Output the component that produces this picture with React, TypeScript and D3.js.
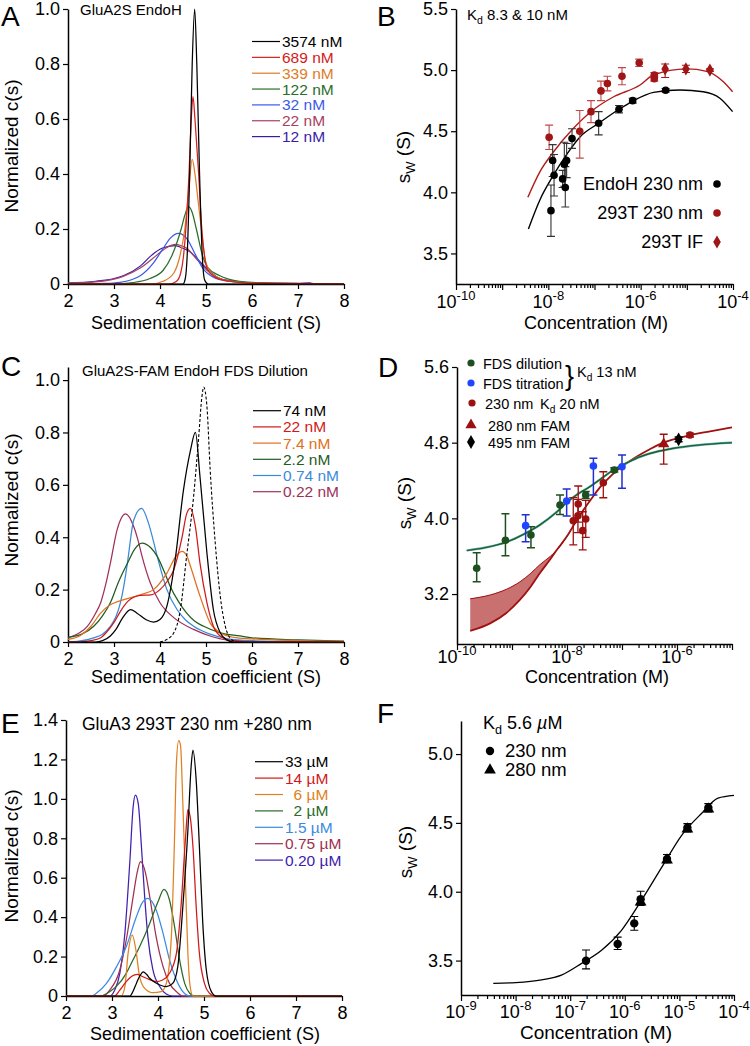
import * as d3 from 'd3'
import { useRef, useEffect } from 'react'

type P = [number, number]
type E = [number, number, number, number] // conc, sw, low, high

// ---------- A: GluA2S EndoH, c(s) distributions ----------
const aLabels = ['3574 nM', '689 nM', '339 nM', '122 nM', '32 nM', '22 nM', '12 nM']
const aColors = ['#000000', '#d42020', '#e07b28', '#2a6e2a', '#3a5ae8', '#a8405e', '#3a1ca8']
const a3574: P[] = [[2, 0], [4.5, 0], [4.55, 0.02], [4.59, 0.1], [4.645, 0.4], [4.7, 0.8], [4.754, 1.0], [4.8, 0.8], [4.86, 0.4], [4.92, 0.1], [4.97, 0.015], [5.05, 0], [8, 0]]
const a689: P[] = [[2, 0], [4.2, 0], [4.36, 0.01], [4.45, 0.04], [4.51, 0.1], [4.57, 0.22], [4.63, 0.4], [4.68, 0.6], [4.717, 0.681], [4.76, 0.6], [4.8, 0.5], [4.84, 0.4], [4.9, 0.22], [4.97, 0.1], [5.04, 0.05], [5.2, 0.025], [5.5, 0.01], [6, 0.003], [8, 0]]
const a339: P[] = [[2, 0], [3.8, 0], [4.07, 0.01], [4.3, 0.04], [4.43, 0.1], [4.54, 0.2], [4.62, 0.33], [4.7, 0.453], [4.76, 0.4], [4.83, 0.3], [4.9, 0.2], [4.97, 0.1], [5.07, 0.05], [5.3, 0.02], [5.6, 0.008], [6.2, 0.002], [8, 0]]
const a122: P[] = [[2, 0], [3.0, 0], [3.41, 0.005], [3.78, 0.02], [4.07, 0.05], [4.25, 0.1], [4.46, 0.2], [4.54, 0.25], [4.62, 0.281], [4.7, 0.26], [4.79, 0.2], [4.93, 0.1], [5.04, 0.06], [5.3, 0.03], [5.73, 0.01], [6.5, 0.002], [8, 0]]
const a32: P[] = [[2, 0], [2.8, 0.002], [3.13, 0.006], [3.57, 0.03], [3.85, 0.075], [4.07, 0.13], [4.22, 0.166], [4.4, 0.184], [4.58, 0.166], [4.76, 0.11], [4.94, 0.055], [5.16, 0.025], [5.5, 0.01], [6, 0.003], [8, 0]]
const a22: P[] = [[2, 0.003], [2.6, 0.008], [3.0, 0.018], [3.2, 0.028], [3.57, 0.058], [3.93, 0.105], [4.15, 0.133], [4.33, 0.144], [4.45, 0.14], [4.58, 0.13], [4.8, 0.09], [5.02, 0.05], [5.27, 0.022], [5.6, 0.01], [6, 0.004], [7, 0.001], [8, 0]]
const a12: P[] = [[2, 0.004], [2.6, 0.01], [3.0, 0.02], [3.2, 0.03], [3.57, 0.065], [3.82, 0.105], [4.04, 0.13], [4.33, 0.14], [4.5, 0.13], [4.65, 0.117], [4.87, 0.081], [5.09, 0.045], [5.3, 0.02], [5.6, 0.01], [6, 0.004], [7, 0.002], [7.25, 0.004], [7.35, 0.001], [8, 0]]
const aCurves = [a3574, a689, a339, a122, a32, a22, a12]

// ---------- B: sw isotherms ----------
const bEndoH: E[] = [
  [1.14e-8, 3.85, 3.64, 4.06], [1.24e-8, 4.26, 4.13, 4.39], [1.33e-8, 4.14, 3.97, 4.31],
  [2.04e-8, 4.11, 4.04, 4.18], [2.22e-8, 4.23, 4.05, 4.41], [2.33e-8, 4.04, 3.88, 4.21],
  [2.49e-8, 4.26, 4.12, 4.4], [3.26e-8, 4.44, 4.36, 4.52], [1.23e-7, 4.565, 4.47, 4.66],
  [3.39e-7, 4.68, 4.65, 4.71], [6.71e-7, 4.75, 4.73, 4.77], [3.47e-6, 4.835, 4.82, 4.85]
]
const b293T: E[] = [
  [1.04e-8, 4.45, 4.35, 4.55], [4.79e-8, 4.5, 4.28, 4.67], [8.4e-8, 4.66, 4.57, 4.75],
  [1.38e-7, 4.83, 4.75, 4.91], [1.9e-7, 4.89, 4.83, 4.95], [3.94e-7, 4.95, 4.88, 5.02],
  [9.3e-7, 5.06, 5.03, 5.09], [1.97e-6, 4.93, 4.91, 4.95], [1.97e-6, 4.96, 4.94, 4.98]
]
const b293TIF: E[] = [[3.39e-6, 5.01, 4.94, 5.05], [9.55e-6, 5.01, 4.98, 5.04], [3.16e-5, 5.0, 4.99, 5.01]]
const bFitEndoH: P[] = [[3.7e-9, 3.7], [6.6e-9, 3.94], [1.29e-8, 4.14], [2.5e-8, 4.31], [4.9e-8, 4.455], [1.23e-7, 4.565], [3.4e-7, 4.68], [6.8e-7, 4.747], [1.9e-6, 4.818], [7.1e-6, 4.837], [2.27e-5, 4.823], [5.2e-5, 4.77], [9.8e-5, 4.66]]
const bFit293T: P[] = [[3.6e-9, 3.96], [6.6e-9, 4.17], [1.29e-8, 4.33], [3.5e-8, 4.524], [9.3e-8, 4.674], [2.6e-7, 4.782], [9.7e-7, 4.878], [1.87e-6, 4.96], [1e-5, 5.01], [2.7e-5, 4.99], [6.2e-5, 4.905], [9.8e-5, 4.823]]
const bLegend = ['EndoH 230 nm', '293T 230 nm', '293T IF']

// ---------- C: GluA2S-FAM FDS dilution ----------
const cLabels = ['74 nM', '22 nM', '7.4 nM', '2.2 nM', '0.74 nM', '0.22 nM']
const cColors = ['#000000', '#d01818', '#e07020', '#1f5c1f', '#3a8ad8', '#a0305a']
const c74: P[] = [[2, 0], [2.6, 0], [2.75, 0.005], [2.92, 0.023], [3.05, 0.05], [3.18, 0.09], [3.36, 0.124], [3.5, 0.11], [3.7, 0.085], [3.86, 0.076], [4.0, 0.086], [4.15, 0.137], [4.33, 0.314], [4.51, 0.58], [4.66, 0.73], [4.77, 0.8], [4.87, 0.63], [5.02, 0.34], [5.16, 0.124], [5.31, 0.035], [5.45, 0.008], [5.6, 0], [8, 0]]
const c22: P[] = [[2.0, 0], [2.2, 0], [2.5, 0.005], [2.71, 0.016], [2.85, 0.04], [3.0, 0.075], [3.15, 0.12], [3.3, 0.155], [3.57, 0.178], [3.8, 0.18], [4.0, 0.2], [4.15, 0.23], [4.3, 0.276], [4.48, 0.4], [4.58, 0.49], [4.66, 0.51], [4.77, 0.44], [4.87, 0.3], [5.02, 0.15], [5.16, 0.06], [5.31, 0.023], [5.6, 0.004], [6, 0], [8, 0]]
const c7p4: P[] = [[2.0, 0.01], [2.27, 0.025], [2.5, 0.06], [2.71, 0.11], [2.9, 0.14], [3.14, 0.158], [3.57, 0.18], [3.86, 0.2], [4.15, 0.263], [4.37, 0.333], [4.48, 0.346], [4.58, 0.33], [4.66, 0.29], [4.87, 0.175], [5.09, 0.073], [5.31, 0.035], [5.6, 0.018], [6, 0.012], [7, 0.005], [8, 0.002]]
const c2p2: P[] = [[2.0, 0.018], [2.3, 0.03], [2.56, 0.06], [2.75, 0.1], [2.92, 0.15], [3.1, 0.23], [3.29, 0.3], [3.45, 0.355], [3.61, 0.378], [3.8, 0.36], [3.94, 0.327], [4.1, 0.265], [4.22, 0.213], [4.4, 0.155], [4.58, 0.11], [4.75, 0.08], [4.95, 0.06], [5.31, 0.035], [5.74, 0.023], [6, 0.016], [7, 0.008], [8, 0.003]]
const c0p74: P[] = [[2.0, 0], [2.2, 0.002], [2.56, 0.016], [2.75, 0.03], [2.92, 0.06], [3.05, 0.1], [3.14, 0.15], [3.22, 0.22], [3.29, 0.3], [3.43, 0.466], [3.6, 0.51], [3.75, 0.454], [3.85, 0.39], [3.94, 0.327], [4.15, 0.2], [4.37, 0.124], [4.55, 0.085], [4.73, 0.06], [5.09, 0.03], [5.45, 0.013], [6, 0.005], [7, 0.002], [8, 0]]
const c0p22: P[] = [[2.0, 0.016], [2.25, 0.035], [2.42, 0.06], [2.6, 0.11], [2.71, 0.15], [2.82, 0.22], [2.92, 0.3], [3.07, 0.43], [3.25, 0.489], [3.43, 0.44], [3.52, 0.39], [3.61, 0.327], [3.79, 0.225], [4.0, 0.15], [4.3, 0.093], [4.73, 0.048], [5.09, 0.023], [5.45, 0.008], [6, 0.003], [7, 0.001], [8, 0]]
const cCurves = [c74, c22, c7p4, c2p2, c0p74, c0p22]
const cDashed: P[] = [[4.0, 0], [4.15, 0.01], [4.3, 0.035], [4.44, 0.12], [4.58, 0.33], [4.73, 0.555], [4.84, 0.78], [4.91, 0.935], [4.95, 0.973], [5.02, 0.9], [5.09, 0.66], [5.2, 0.38], [5.31, 0.175], [5.42, 0.06], [5.52, 0.016], [5.67, 0]]

// ---------- D: FDS / absorbance isotherms ----------
const dDilution: E[] = [[2.28e-10, 3.472, 3.33, 3.637], [7.6e-10, 3.768, 3.605, 4.05], [2.21e-9, 3.824, 3.69, 3.912], [7.46e-9, 4.141, 4.04, 4.247], [2.19e-8, 4.247, 4.21, 4.285], [7.24e-8, 4.511, 4.49, 4.535]]
const dTitration: E[] = [[1.77e-9, 3.923, 3.753, 4.039], [9.86e-9, 4.184, 4.025, 4.31], [3.02e-8, 4.553, 4.247, 4.635], [1e-7, 4.546, 4.318, 4.67]]
const d230: E[] = [[1.3e-8, 3.975, 3.72, 4.22], [1.6e-8, 4.152, 3.96, 4.342], [1.58e-8, 4.028, 3.85, 4.2], [1.93e-8, 3.87, 3.666, 4.07], [2.19e-8, 3.993, 3.8, 4.19], [4.57e-8, 4.377, 4.218, 4.493], [1.72e-6, 4.881, 4.86, 4.9]]
const d280: E[] = [[5.73e-7, 4.787, 4.574, 4.889]]
const d495: E[] = [[1.07e-6, 4.836, 4.81, 4.86]]
const dFitFDS: P[] = [[1.5e-10, 3.66], [3.2e-10, 3.69], [8e-10, 3.75], [1.6e-9, 3.83], [3.2e-9, 3.93], [6.3e-9, 4.06], [1e-8, 4.17], [1.6e-8, 4.26], [2.6e-8, 4.335], [4.4e-8, 4.43], [6.9e-8, 4.51], [1.26e-7, 4.59], [2.1e-7, 4.65], [4e-7, 4.7], [8.5e-7, 4.74], [2.5e-6, 4.775], [1e-5, 4.8]]
const dFit230: P[] = [[1.74e-10, 2.81], [4e-10, 2.89], [7.9e-10, 3.0], [1.4e-9, 3.14], [2.2e-9, 3.28], [3.2e-9, 3.42], [5e-9, 3.57], [6.5e-9, 3.665], [1.05e-8, 3.83], [1.4e-8, 3.95], [2e-8, 4.09], [2.8e-8, 4.21], [4e-8, 4.33], [6.3e-8, 4.45], [1e-7, 4.55], [1.6e-7, 4.63], [3.2e-7, 4.73], [5.6e-7, 4.8], [1e-6, 4.845], [1.74e-6, 4.88], [4e-6, 4.92], [1e-5, 4.963]]
const dBandUpper: P[] = [[1.74e-10, 3.15], [4e-10, 3.19], [7.9e-10, 3.25], [1.4e-9, 3.33], [2.2e-9, 3.42], [3.2e-9, 3.51], [5e-9, 3.6], [7.4e-9, 3.7], [1.05e-8, 3.83]]
const dBandLower: P[] = dFit230.slice(0, 9)

// ---------- E: GluA3 293T c(s) ----------
const eLabels = ['33 µM', '14 µM', '\u20076 µM', '\u20072 µM', '1.5 µM', '0.75 µM', '0.20 µM']
const eColors = ['#000000', '#d01818', '#e08020', '#2a6a2a', '#3a8ae0', '#a03050', '#4020b0']
const e33: P[] = [[2, 0], [3.39, 0], [3.45, 0.02], [3.53, 0.064], [3.6, 0.1], [3.68, 0.123], [3.75, 0.11], [3.82, 0.09], [3.93, 0.07], [4.04, 0.056], [4.18, 0.047], [4.32, 0.064], [4.43, 0.149], [4.54, 0.453], [4.65, 0.842], [4.72, 1.163], [4.76, 1.247], [4.83, 1.095], [4.9, 0.757], [4.97, 0.385], [5.05, 0.132], [5.16, 0.022], [5.26, 0], [8, 0]]
const e14: P[] = [[2, 0], [3.05, 0], [3.17, 0.03], [3.31, 0.073], [3.43, 0.1], [3.55, 0.11], [3.65, 0.1], [3.75, 0.09], [3.96, 0.073], [4.1, 0.081], [4.25, 0.115], [4.4, 0.216], [4.5, 0.453], [4.6, 0.808], [4.65, 0.946], [4.7, 0.909], [4.76, 0.757], [4.83, 0.453], [4.9, 0.216], [5.01, 0.064], [5.12, 0.014], [5.23, 0], [8, 0]]
const e6: P[] = [[2, 0], [3.2, 0], [3.28, 0.047], [3.35, 0.216], [3.44, 0.309], [3.52, 0.233], [3.6, 0.098], [3.71, 0.039], [3.89, 0.017], [4.07, 0.022], [4.18, 0.064], [4.29, 0.3], [4.36, 0.808], [4.4, 1.18], [4.45, 1.295], [4.49, 1.27], [4.54, 0.977], [4.6, 0.554], [4.65, 0.216], [4.7, 0.047], [4.76, 0], [8, 0]]
const e2: P[] = [[2, 0], [2.74, 0], [2.95, 0.022], [3.1, 0.05], [3.31, 0.115], [3.45, 0.18], [3.6, 0.25], [3.82, 0.368], [4.0, 0.478], [4.13, 0.541], [4.25, 0.487], [4.36, 0.352], [4.47, 0.183], [4.58, 0.064], [4.69, 0.014], [4.79, 0], [8, 0]]
const e1p5: P[] = [[2, 0], [2.56, 0], [2.66, 0.014], [2.88, 0.064], [3.1, 0.149], [3.31, 0.25], [3.53, 0.402], [3.65, 0.47], [3.78, 0.495], [3.96, 0.436], [4.11, 0.318], [4.25, 0.183], [4.4, 0.081], [4.54, 0.022], [4.69, 0], [8, 0]]
const e0p75: P[] = [[2, 0], [2.81, 0], [2.95, 0.03], [3.17, 0.132], [3.31, 0.284], [3.46, 0.504], [3.55, 0.63], [3.62, 0.681], [3.73, 0.622], [3.82, 0.504], [3.96, 0.3], [4.11, 0.149], [4.25, 0.064], [4.4, 0.022], [4.54, 0], [8, 0]]
const e0p20: P[] = [[2, 0], [2.95, 0], [3.06, 0.03], [3.17, 0.115], [3.28, 0.318], [3.39, 0.69], [3.46, 0.96], [3.51, 1.019], [3.57, 0.977], [3.64, 0.757], [3.71, 0.504], [3.78, 0.3], [3.89, 0.132], [4.04, 0.047], [4.18, 0.01], [4.32, 0], [8, 0]]
const eCurves = [e33, e14, e6, e2, e1p5, e0p75, e0p20]

// ---------- F: GluA3 isotherm ----------
const f230: E[] = [[1.95e-7, 3.499, 3.44, 3.577], [7.4e-7, 3.62, 3.58, 3.67], [1.49e-6, 3.77, 3.72, 3.82], [1.95e-6, 3.945, 3.9, 4.003], [5.93e-6, 4.238, 4.21, 4.27], [1.4e-5, 4.465, 4.435, 4.495], [3.39e-5, 4.61, 4.58, 4.64]]
const f280: P[] = [[1.95e-6, 3.925], [5.93e-6, 4.23], [1.4e-5, 4.455], [3.39e-5, 4.6]]
const fFit: P[] = [[3.9e-9, 3.335], [1e-8, 3.34], [3e-8, 3.36], [6.9e-8, 3.395], [1.62e-7, 3.48], [3.8e-7, 3.577], [8.7e-7, 3.72], [2.04e-6, 3.94], [4.8e-6, 4.18], [1.1e-5, 4.41], [2.57e-5, 4.57], [5.1e-5, 4.68], [1e-4, 4.7]]

const FONT = '"Liberation Sans", Arial, Helvetica, sans-serif'

const App = () => {
  const ref = useRef<SVGSVGElement>(null)

  useEffect(() => {
    drawChart()
  }, [])

  const drawChart = () => {
    const svg = d3.select(ref.current)
    svg.selectAll('*').remove()
    svg.attr('font-family', FONT)

    const fmt1 = (d: any) => (d === 0 ? '0' : d3.format('.1f')(d))

    const styleAxis = (g: any) => {
      g.attr('font-family', FONT).attr('font-size', 18)
      g.select('.domain').attr('stroke-width', 1.5)
      g.selectAll('.tick line').attr('stroke-width', 1.2)
      g.selectAll('.tick text').attr('fill', '#000')
    }

    const text = (x: number, y: number, t: string, size: number, color = '#000', anchor = 'start') =>
      svg.append('text').attr('x', x).attr('y', y).attr('font-size', size).attr('fill', color).attr('text-anchor', anchor).text(t)

    const kd = (x: number, y: number, size: number, rest: string, italicMu = false) => {
      const t = svg.append('text').attr('x', x).attr('y', y).attr('font-size', size)
      t.append('tspan').text('K')
      t.append('tspan').attr('font-size', size * 0.7).attr('dy', size * 0.28).text('d')
      if (italicMu) {
        t.append('tspan').attr('dy', -size * 0.28).text(' ' + rest + ' ')
        t.append('tspan').attr('font-style', 'italic').text('µ')
        t.append('tspan').text('M')
      } else {
        t.append('tspan').attr('dy', -size * 0.28).text(' ' + rest)
      }
    }

    const yTitle = (x: number, y: number, t: string) =>
      svg.append('text').attr('transform', `translate(${x},${y}) rotate(-90)`).attr('text-anchor', 'middle').attr('font-size', 19).text(t)

    const swTitle = (x: number, y: number) => {
      const t = svg.append('text').attr('transform', `translate(${x},${y}) rotate(-90)`).attr('text-anchor', 'middle').attr('font-size', 19)
      t.append('tspan').text('s')
      t.append('tspan').attr('font-size', 13).attr('dy', 5).text('W')
      t.append('tspan').attr('dy', -5).text(' (S)')
    }

    const panelLetter = (x: number, y: number, t: string) => text(x, y, t, 28)

    // c(s) panels
    const distPanel = (x0: number, x1: number, yb: number, yt: number, ymax: number, yTicks: number[], curves: P[][], colors: string[]) => {
      const x = d3.scaleLinear().domain([2, 8]).range([x0, x1])
      const y = d3.scaleLinear().domain([0, ymax]).range([yb, yt])
      svg.append('g').attr('transform', `translate(0,${yb})`)
        .call(d3.axisBottom(x).tickValues(d3.range(2, 9)).tickFormat(d3.format('d')).tickSize(5).tickSizeOuter(0).tickPadding(5))
        .call(styleAxis)
      svg.append('g').attr('transform', `translate(${x0},0)`)
        .call(d3.axisLeft(y).tickValues(yTicks).tickFormat(fmt1).tickSize(5).tickSizeOuter(0).tickPadding(3))
        .call(styleAxis)
      const line = d3.line<P>().x(d => x(d[0])).y(d => y(d[1])).curve(d3.curveMonotoneX)
      for (let i = curves.length - 1; i >= 0; i--) {
        svg.append('path').attr('d', line(curves[i])).attr('fill', 'none').attr('stroke', colors[i]).attr('stroke-width', 1.25)
      }
      return { x, y, line }
    }

    const legend = (x0: number, yStart: number, step: number, labels: string[], colors: string[]) => {
      labels.forEach((l, i) => {
        const yy = yStart + i * step
        svg.append('line').attr('x1', x0).attr('x2', x0 + 28).attr('y1', yy).attr('y2', yy).attr('stroke', colors[i]).attr('stroke-width', 1.2)
        text(x0 + 30, yy + 5.5, l, 15.5, colors[i]).attr('xml:space', 'preserve')
      })
    }

    // log concentration axes
    const logPanel = (x0: number, x1: number, minE: number, maxE: number, yb: number, yt: number, yDom: [number, number], yTicks: number[], labelE: number[], labOff: number) => {
      const x = d3.scaleLog().domain([10 ** minE, 10 ** maxE]).range([x0, x1])
      const y = d3.scaleLinear().domain(yDom).range([yb, yt])
      const ticks: number[] = []
      for (let e = minE; e < maxE; e++) for (let k = 1; k < 10; k++) ticks.push(k * 10 ** e)
      ticks.push(10 ** maxE)
      const isDecade = (d: number) => Math.abs(Math.log10(d) - Math.round(Math.log10(d))) < 1e-6
      const gx = svg.append('g').attr('transform', `translate(0,${yb})`)
        .call(d3.axisBottom(x).tickValues(ticks).tickSize(4).tickSizeOuter(0).tickFormat(() => ''))
        .call(styleAxis)
      gx.selectAll('.tick line').attr('y2', (d: any) => (isDecade(d) ? 6 : 4))
      labelE.forEach(e => {
        const t = gx.append('text').attr('x', x(10 ** e)).attr('y', labOff).attr('text-anchor', 'middle').attr('fill', '#000')
        t.append('tspan').text('10')
        t.append('tspan').attr('font-size', 13).attr('dy', -8).text('-' + -e)
      })
      svg.append('g').attr('transform', `translate(${x0},0)`)
        .call(d3.axisLeft(y).tickValues(yTicks).tickFormat(fmt1).tickSize(5).tickSizeOuter(0).tickPadding(3))
        .call(styleAxis)
      return { x, y }
    }

    const errBars = (x: any, y: any, data: E[], color: string, w = 4, sw = 1.1) => {
      data.forEach(d => {
        const cx = x(d[0]), lo = y(d[2]), hi = y(d[3])
        svg.append('path')
          .attr('d', `M${cx - w},${lo}H${cx + w}M${cx},${lo}V${hi}M${cx - w},${hi}H${cx + w}`)
          .attr('stroke', color).attr('stroke-width', sw).attr('fill', 'none')
      })
    }
    const dots = (x: any, y: any, data: (E | P)[], color: string, r = 3.6) => {
      data.forEach(d => {
        svg.append('circle').attr('cx', x(d[0])).attr('cy', y(d[1])).attr('r', r).attr('fill', color)
      })
    }
    const sym = (cx: number, cy: number, type: any, size: number, color: string) =>
      svg.append('path').attr('d', d3.symbol().type(type).size(size)()).attr('transform', `translate(${cx},${cy})`).attr('fill', color)

    // ================= A =================
    distPanel(68, 344, 284, 9, 1.0, [0, 0.2, 0.4, 0.6, 0.8, 1.0], aCurves, aColors)
    panelLetter(1, 26, 'A')
    text(80, 15, 'GluA2S EndoH', 15)
    legend(252, 41.5, 15.85, aLabels, aColors)
    yTitle(18, 146, 'Normalized c(s)')
    text(206, 329, 'Sedimentation coefficient (S)', 18, '#000', 'middle')

    // ================= B =================
    {
      const { x, y } = logPanel(456, 733, -10, -4, 284, 9, [3.25, 5.5], [3.5, 4.0, 4.5, 5.0, 5.5], [-10, -8, -6, -4], 24)
      const line = d3.line<P>().x(d => x(d[0])).y(d => y(d[1])).curve(d3.curveMonotoneX)
      svg.append('path').attr('d', line(bFitEndoH)).attr('fill', 'none').attr('stroke', '#000').attr('stroke-width', 1.4)
      svg.append('path').attr('d', line(bFit293T)).attr('fill', 'none').attr('stroke', '#b01c1c').attr('stroke-width', 1.4)
      errBars(x, y, b293T, '#c04848')
      errBars(x, y, b293TIF, '#a01515')
      errBars(x, y, bEndoH, '#333333')
      dots(x, y, b293T, '#a01515', 3.8)
      b293TIF.forEach(d => sym(x(d[0]), y(d[1]), d3.symbolDiamond, 50, '#a01515'))
      dots(x, y, bEndoH, '#000', 3.8)
      panelLetter(377, 26, 'B')
      kd(467, 20, 15, '8.3 & 10 nM')
      text(703, 190, bLegend[0], 18, '#000', 'end')
      svg.append('circle').attr('cx', 717).attr('cy', 184).attr('r', 3.8).attr('fill', '#000')
      text(703, 219, bLegend[1], 18, '#000', 'end')
      svg.append('circle').attr('cx', 717).attr('cy', 213).attr('r', 3.8).attr('fill', '#a01515')
      text(703, 248, bLegend[2], 18, '#000', 'end')
      sym(717, 242, d3.symbolDiamond, 50, '#a01515')
      swTitle(410, 157)
      text(596, 329, 'Concentration (M)', 18, '#000', 'middle')
    }

    // ================= C =================
    {
      const { line } = distPanel(68, 344, 642, 367, 1.05, [0, 0.2, 0.4, 0.6, 0.8, 1.0], cCurves, cColors)
      svg.append('path').attr('d', line(cDashed)).attr('fill', 'none').attr('stroke', '#000').attr('stroke-width', 1.1).attr('stroke-dasharray', '3,2')
      panelLetter(1, 376, 'C')
      text(82, 376, 'GluA2S-FAM EndoH FDS Dilution', 15)
      legend(253, 410.7, 16.2, cLabels, cColors)
      yTitle(18, 500, 'Normalized c(s)')
      text(206, 683, 'Sedimentation coefficient (S)', 18, '#000', 'middle')
    }

    // ================= D =================
    {
      const { x, y } = logPanel(457, 732, -10, -5, 644, 367, [2.672, 5.6], [3.2, 4.0, 4.8, 5.6], [-10, -8, -6], 19)
      const line = d3.line<P>().x(d => x(d[0])).y(d => y(d[1])).curve(d3.curveMonotoneX)
      const band = d3.line<P>().x(d => x(d[0])).y(d => y(d[1]))
      svg.append('path').attr('d', band([...dBandUpper, ...dBandLower.slice().reverse()]) + 'Z').attr('fill', '#c97070').attr('stroke', 'none')
      svg.append('path').attr('d', line(dBandUpper)).attr('fill', 'none').attr('stroke', '#a01010').attr('stroke-width', 1)
      svg.append('path').attr('d', line(dFit230)).attr('fill', 'none').attr('stroke', '#a01010').attr('stroke-width', 1.8)
      svg.append('path').attr('d', line(dFitFDS)).attr('fill', 'none').attr('stroke', '#4aa0a0').attr('stroke-width', 2.2)
      svg.append('path').attr('d', line(dFitFDS)).attr('fill', 'none').attr('stroke', '#1e5a1e').attr('stroke-width', 1.1)
      errBars(x, y, dDilution, '#1e4f1e', 4, 1.5)
      errBars(x, y, dTitration, '#1f2fd0', 4, 1.5)
      errBars(x, y, d230, '#9b1111', 4, 1.3)
      errBars(x, y, d280, '#9b1111', 4, 1.3)
      errBars(x, y, d495, '#000', 4, 1.3)
      dots(x, y, dDilution, '#1e4f1e', 3.8)
      dots(x, y, dTitration, '#1f45ff', 3.8)
      dots(x, y, d230, '#9b1111', 3.8)
      d280.forEach(d => sym(x(d[0]), y(d[1]), d3.symbolTriangle, 55, '#9b1111'))
      d495.forEach(d => sym(x(d[0]), y(d[1]), d3.symbolDiamond, 55, '#000'))
      panelLetter(378, 377, 'D')
      svg.append('circle').attr('cx', 471).attr('cy', 363).attr('r', 3.6).attr('fill', '#1e4f1e')
      text(483, 368.5, 'FDS dilution', 14.5)
      svg.append('circle').attr('cx', 471).attr('cy', 383).attr('r', 3.6).attr('fill', '#1f45ff')
      text(483, 388.5, 'FDS titration', 14.5)
      text(565, 385, '}', 27)
      kd(577, 377, 14.5, '13 nM')
      svg.append('circle').attr('cx', 472).attr('cy', 403).attr('r', 3.6).attr('fill', '#9b1111')
      text(485, 408.5, '230 nm', 14.5)
      kd(540, 408.5, 14.5, '20 nM')
      sym(471, 425, d3.symbolTriangle, 55, '#9b1111')
      text(488, 431, '280 nm FAM', 14.5)
      sym(471, 442, d3.symbolDiamond, 55, '#000')
      text(488, 448, '495 nm FAM', 14.5)
      swTitle(411, 503)
      text(597, 683, 'Concentration (M)', 18, '#000', 'middle')
    }

    // ================= E =================
    distPanel(66, 342, 996, 720, 1.4, [0, 0.2, 0.4, 0.6, 0.8, 1.0, 1.2, 1.4], eCurves, eColors)
    panelLetter(1, 733, 'E')
    text(82, 730, 'GluA3 293T 230 nm +280 nm', 17.5)
    legend(255, 761.7, 16.4, eLabels, eColors)
    yTitle(18, 856, 'Normalized c(s)')
    text(205, 1040, 'Sedimentation coefficient (S)', 18, '#000', 'middle')

    // ================= F =================
    {
      const { x, y } = logPanel(461, 734, -9, -4, 995, 721, [3.25, 5.24], [3.5, 4.0, 4.5, 5.0], [-9, -8, -7, -6, -5, -4], 23)
      const line = d3.line<P>().x(d => x(d[0])).y(d => y(d[1])).curve(d3.curveMonotoneX)
      svg.append('path').attr('d', line(fFit)).attr('fill', 'none').attr('stroke', '#000').attr('stroke-width', 1.3)
      errBars(x, y, f230, '#000', 4, 1.1)
      dots(x, y, f230, '#000', 4.2)
      f280.forEach(d => sym(x(d[0]), y(d[1]), d3.symbolTriangle, 60, '#000'))
      panelLetter(377, 723, 'F')
      kd(483, 729, 18, '5.6', true)
      svg.append('circle').attr('cx', 490).attr('cy', 751).attr('r', 4.2).attr('fill', '#000')
      text(505, 757, '230 nm', 18.5)
      sym(490, 770, d3.symbolTriangle, 60, '#000')
      text(505, 776, '280 nm', 18.5)
      swTitle(412, 852)
      text(596, 1039, 'Concentration (M)', 19, '#000', 'middle')
    }
  }

  return (
    <div className='c-chart'>
      <svg ref={ref} width={750} height={1046} style={{ position: 'absolute', left: 0, top: 0, background: '#fff' }}></svg>
    </div>
  )
}

export default App
